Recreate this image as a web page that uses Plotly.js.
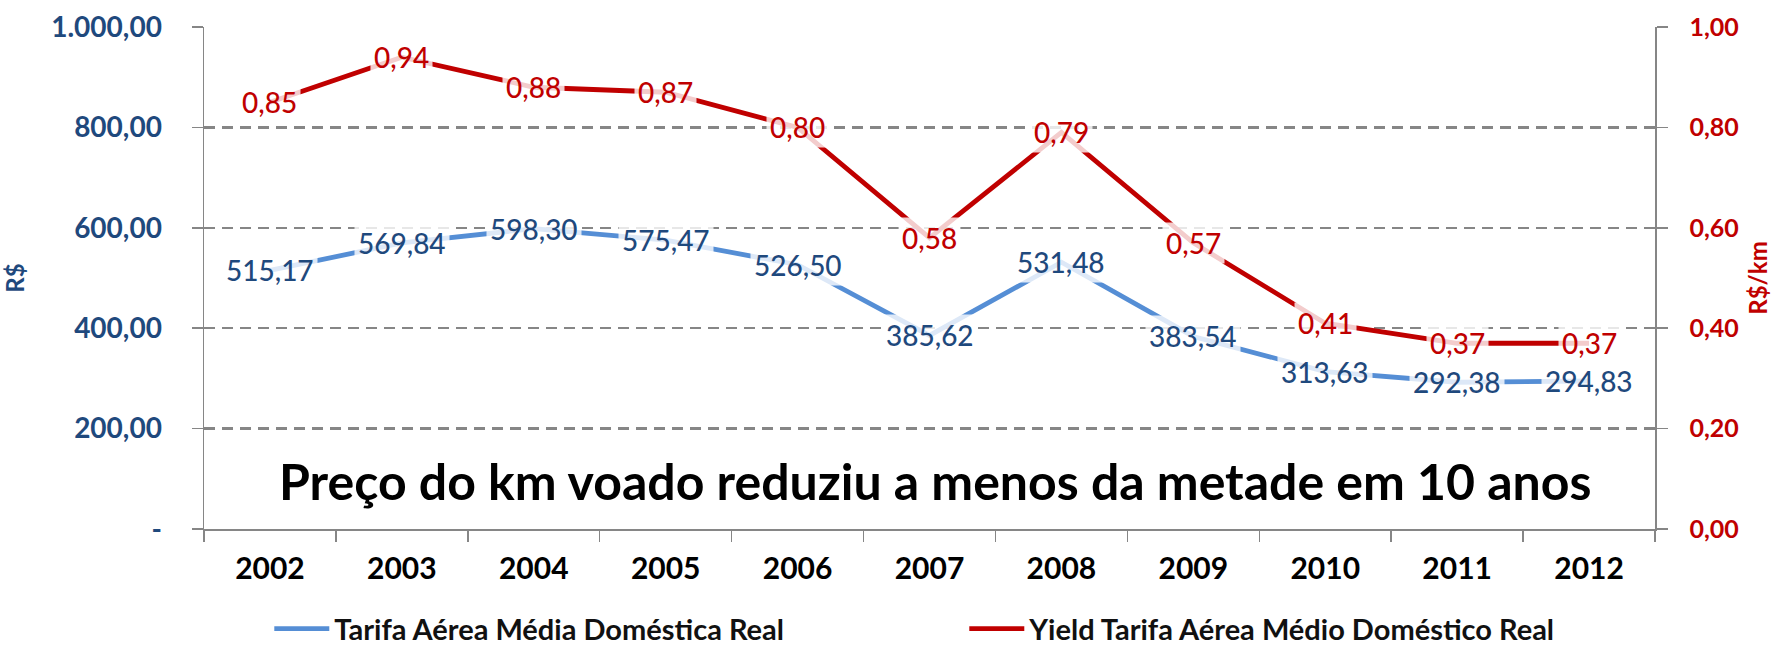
<!DOCTYPE html>
<html>
<head>
<meta charset="utf-8">
<script src="https://cdn.plot.ly/plotly-3.0.1.min.js"></script>
<style>html,body{margin:0;padding:0;background:#fff;}#chart{width:1772px;height:645px;}</style>
</head>
<body>
<div id="chart"></div>
<script>
const years = ['2002','2003','2004','2005','2006','2007','2008','2009','2010','2011','2012'];
const tarifa = [515.17, 569.84, 598.30, 575.47, 526.50, 385.62, 531.48, 383.54, 313.63, 292.38, 294.83];
const yieldKm = [0.85, 0.94, 0.88, 0.87, 0.80, 0.58, 0.79, 0.57, 0.41, 0.37, 0.37];
const leftTickVals = [0, 200, 400, 600, 800, 1000];
const leftTickText = ['-', '200,00', '400,00', '600,00', '800,00', '1.000,00'];
const rightTickVals = [0, 0.2, 0.4, 0.6, 0.8, 1.0];
const rightTickText = ['0,00', '0,20', '0,40', '0,60', '0,80', '1,00'];
const seriesNames = ['Tarifa Aérea Média Doméstica Real', 'Yield Tarifa Aérea Médio Doméstico Real'];
const headline = 'Preço do km voado reduziu a menos da metade em 10 anos';

const FONT = 'Lato, "Open Sans", sans-serif';
const BLUE_LINE = '#558ED5';
const BLUE_TEXT = '#1F497D';
const RED = '#C00000';
const GRID = '#868686';

const fmt = (v, d) => v.toFixed(d).replace('.', ',');

const traces = [
  {x: years, y: tarifa, type: 'scatter', mode: 'lines', name: seriesNames[0],
   line: {color: BLUE_LINE, width: 4.8}, yaxis: 'y'},
  {x: years, y: yieldKm, type: 'scatter', mode: 'lines', name: seriesNames[1],
   line: {color: RED, width: 4.8}, yaxis: 'y2'}
];

const annotations = [];
years.forEach((yr, i) => {
  annotations.push({x: i, y: tarifa[i], xref: 'x', yref: 'y', text: fmt(tarifa[i], 2),
    showarrow: false, xanchor: 'center', yanchor: 'middle',
    font: {family: FONT, size: 28, color: BLUE_TEXT, weight: 500},
    bgcolor: 'rgba(255,255,255,0.8)', borderpad: 3});
  annotations.push({x: i, y: yieldKm[i], xref: 'x', yref: 'y2', text: fmt(yieldKm[i], 2),
    showarrow: false, xanchor: 'center', yanchor: 'middle',
    font: {family: FONT, size: 28, color: RED, weight: 500},
    bgcolor: 'rgba(255,255,255,0.8)', borderpad: 3});
});
annotations.push({x: 0.504, y: 0.096, xref: 'paper', yref: 'paper', text: '<b>' + headline + '</b>',
  showarrow: false, xanchor: 'center', yanchor: 'middle',
  font: {family: FONT, size: 50, color: '#000000'}});

const layout = {
  width: 1772, height: 645,
  margin: {l: 204, r: 117, t: 27, b: 116, pad: 0, autoexpand: false},
  paper_bgcolor: '#ffffff', plot_bgcolor: '#ffffff',
  font: {family: FONT},
  showlegend: true,
  legend: {orientation: 'h', x: 0.045, xanchor: 'left', y: -0.148, yanchor: 'top',
    font: {family: FONT, size: 29, color: '#111111', weight: 'bold'},
    itemwidth: 55, entrywidth: 625, entrywidthmode: 'pixels', traceorder: 'normal'},
  xaxis: {type: 'category', range: [-0.5, 10.5], tickson: 'boundaries', ticks: 'outside',
    ticklen: 11, tickwidth: 1.5, tickcolor: GRID, showline: true, linecolor: GRID, linewidth: 1.5,
    showgrid: false, zeroline: false,
    tickfont: {family: FONT, size: 30, color: '#000000', weight: 'bold'}, ticklabelstandoff: 12},
  yaxis: {range: [0, 1000], tickvals: leftTickVals, ticktext: leftTickText,
    showgrid: true, gridcolor: GRID, gridwidth: 2.5, griddash: '11px,7px', zeroline: false,
    showline: true, linecolor: GRID, linewidth: 1.5, ticks: 'outside', ticklen: 11, tickwidth: 1.5, tickcolor: GRID,
    tickfont: {family: FONT, size: 28, color: BLUE_TEXT, weight: 'bold'}, ticklabelstandoff: 24,
    title: {text: '<b>R$</b>', font: {family: FONT, size: 24, color: BLUE_TEXT}, standoff: 20}},
  yaxis2: {range: [0, 1], overlaying: 'y', side: 'right', tickvals: rightTickVals, ticktext: rightTickText,
    showgrid: false, zeroline: false, showline: true, linecolor: GRID, linewidth: 1.5,
    ticks: 'outside', ticklen: 11, tickwidth: 1.5, tickcolor: GRID,
    tickfont: {family: FONT, size: 25, color: RED, weight: 'bold'}, ticklabelstandoff: 17,
    title: {text: '<b>R$/km</b>', font: {family: FONT, size: 24, color: RED}, standoff: 12}},
  annotations: annotations
};

Plotly.newPlot('chart', traces, layout, {displayModeBar: false, staticPlot: true});
</script>
</body>
</html>
